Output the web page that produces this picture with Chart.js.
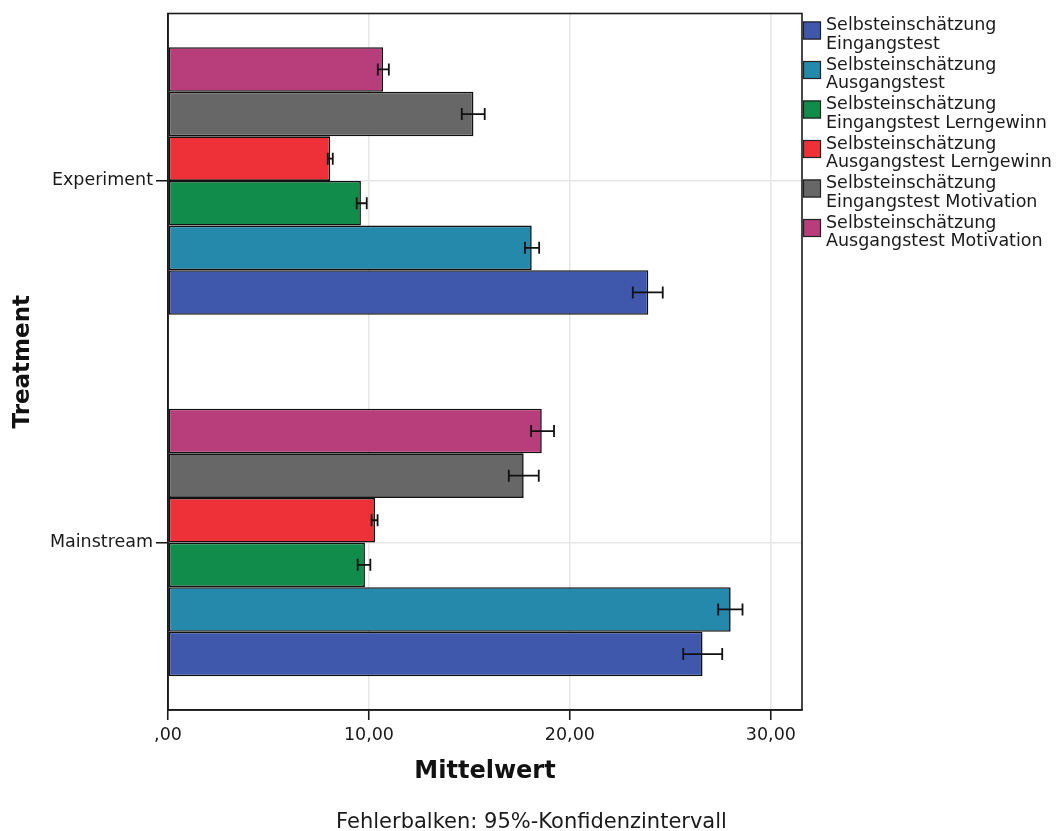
<!DOCTYPE html>
<html>
<head>
<meta charset="utf-8">
<script src="https://cdn.jsdelivr.net/npm/chart.js@4.4.1/dist/chart.umd.min.js"></script>
<style>
  html, body { margin: 0; padding: 0; background: #fff; }
</style>
</head>
<body>
<canvas id="chart" width="1063" height="831"></canvas>
<script>
// y index: 0 = Mainstream (bottom), 1 = Experiment (top)
const categories = ['Mainstream', 'Experiment'];
const xTicks = [0, 10, 20, 30];

const seriesNames = [
  'Selbsteinschätzung Eingangstest',
  'Selbsteinschätzung Ausgangstest',
  'Selbsteinschätzung Eingangstest Lerngewinn',
  'Selbsteinschätzung Ausgangstest Lerngewinn',
  'Selbsteinschätzung Eingangstest Motivation',
  'Selbsteinschätzung Ausgangstest Motivation'
];
const seriesColors = ['#3f58ab', '#2489ab', '#118c4a', '#ee3139', '#676767', '#b83e7b'];

// means [Mainstream, Experiment]
const eingangstest = [26.6, 23.9];
const ausgangstest = [28.0, 18.1];
const eingangLerngewinn = [9.8, 9.6];
const ausgangLerngewinn = [10.3, 8.07];
const eingangMotivation = [17.7, 15.2];
const ausgangMotivation = [18.6, 10.7];

// 95% CI, per series, [Mainstream, Experiment]
const ciLower = [[25.64, 23.13], [27.38, 17.76], [9.44, 9.39], [10.13, 7.95], [16.96, 14.62], [18.07, 10.44]];
const ciUpper = [[27.58, 24.62], [28.59, 18.47], [10.07, 9.89], [10.43, 8.20], [18.45, 15.76], [19.21, 10.99]];

const seriesValues = [eingangstest, ausgangstest, eingangLerngewinn, ausgangLerngewinn, eingangMotivation, ausgangMotivation];

const FONT = 'DejaVu Sans';
const INK = '#1a1a1a';

Chart.defaults.font.family = FONT;
Chart.defaults.font.size = 17.5;
Chart.defaults.color = INK;

// first dataset is drawn on top of a group, so reverse to get the blue bar at the bottom
const datasets = seriesValues.map((vals, s) => ({
  label: seriesNames[s],
  data: vals.map((v, i) => ({ x: v, y: i })),
  backgroundColor: seriesColors[s],
  borderColor: '#111',
  borderWidth: 1.6,
  borderSkipped: false,
  ciLow: ciLower[s],
  ciHigh: ciUpper[s],
  categoryPercentage: 0.74,
  barPercentage: 1.0
})).reverse();

const errorBars = {
  id: 'errorBars',
  afterDatasetsDraw(chart) {
    const { ctx } = chart;
    const xs = chart.scales.x;
    ctx.save();
    ctx.strokeStyle = '#111';
    ctx.lineWidth = 1.8;
    chart.data.datasets.forEach((ds, di) => {
      chart.getDatasetMeta(di).data.forEach((bar, i) => {
        const x0 = xs.getPixelForValue(ds.ciLow[i]);
        const x1 = xs.getPixelForValue(ds.ciHigh[i]);
        const y = bar.y;
        ctx.beginPath();
        ctx.moveTo(x0, y); ctx.lineTo(x1, y);
        ctx.moveTo(x0, y - 6); ctx.lineTo(x0, y + 6);
        ctx.moveTo(x1, y - 6); ctx.lineTo(x1, y + 6);
        ctx.stroke();
      });
    });
    ctx.restore();
  }
};

const frameAndLegend = {
  id: 'frameAndLegend',
  afterDraw(chart) {
    const { ctx, chartArea: a } = chart;
    ctx.save();
    ctx.strokeStyle = INK;
    ctx.lineWidth = 1.6;
    ctx.strokeRect(a.left, a.top, a.right - a.left, a.bottom - a.top);

    // legend, two lines per entry
    ctx.font = '17.5px "' + FONT + '"';
    ctx.textBaseline = 'alphabetic';
    ctx.textAlign = 'left';
    seriesNames.forEach((name, i) => {
      const top = 21.5 + i * 39.5;
      ctx.fillStyle = seriesColors[i];
      ctx.fillRect(a.right + 1, top, 18, 18);
      ctx.lineWidth = 1.2;
      ctx.strokeStyle = '#222';
      ctx.strokeRect(a.right + 1.5, top + 0.5, 17, 17);
      const cut = name.indexOf(' ');
      ctx.fillStyle = INK;
      ctx.fillText(name.slice(0, cut), 826, 30 + i * 39.5);
      ctx.fillText(name.slice(cut + 1), 826, 48.5 + i * 39.5);
    });

    // footnote
    ctx.font = '21px "' + FONT + '"';
    ctx.textAlign = 'center';
    ctx.fillText('Fehlerbalken: 95%-Konfidenzintervall', chart.width / 2, 828);
    ctx.restore();
  }
};

new Chart(document.getElementById('chart'), {
  type: 'bar',
  data: { datasets },
  options: {
    indexAxis: 'y',
    responsive: false,
    animation: false,
    layout: { padding: { left: 0, top: 13, right: 261, bottom: 21 } },
    plugins: { legend: { display: false }, tooltip: { enabled: false } },
    scales: {
      x: {
        type: 'linear',
        min: 0,
        max: 31.55,
        afterBuildTicks: s => { s.ticks = xTicks.map(v => ({ value: v })); },
        afterFit: s => { s.height = 100; },
        ticks: {
          padding: 5,
          callback: v => v === 0 ? ',00' : v.toFixed(2).replace('.', ',')
        },
        grid: { color: '#e6e6e6', lineWidth: 1.5, tickLength: 10, tickColor: INK, tickWidth: 1.6 },
        border: { color: INK, width: 1.6 },
        title: {
          display: true,
          text: 'Mittelwert',
          font: { size: 24, weight: 'bold' },
          color: '#111',
          padding: { top: 0, bottom: 24 }
        }
      },
      y: {
        type: 'linear',
        min: -0.463,
        max: 1.463,
        offset: false,
        afterBuildTicks: s => { s.ticks = categories.map((c, i) => ({ value: i })); },
        afterFit: s => { s.width = 168; },
        ticks: { padding: 3, callback: v => categories[v] },
        grid: { offset: false, color: '#e6e6e6', lineWidth: 1.5, tickLength: 12, tickColor: INK, tickWidth: 1.6 },
        border: { color: INK, width: 1.6 },
        title: {
          display: true,
          text: 'Treatment',
          font: { size: 23, weight: 'bold' },
          color: '#111',
          padding: { top: 9, bottom: 0 }
        }
      }
    }
  },
  plugins: [errorBars, frameAndLegend]
});
</script>
</body>
</html>
